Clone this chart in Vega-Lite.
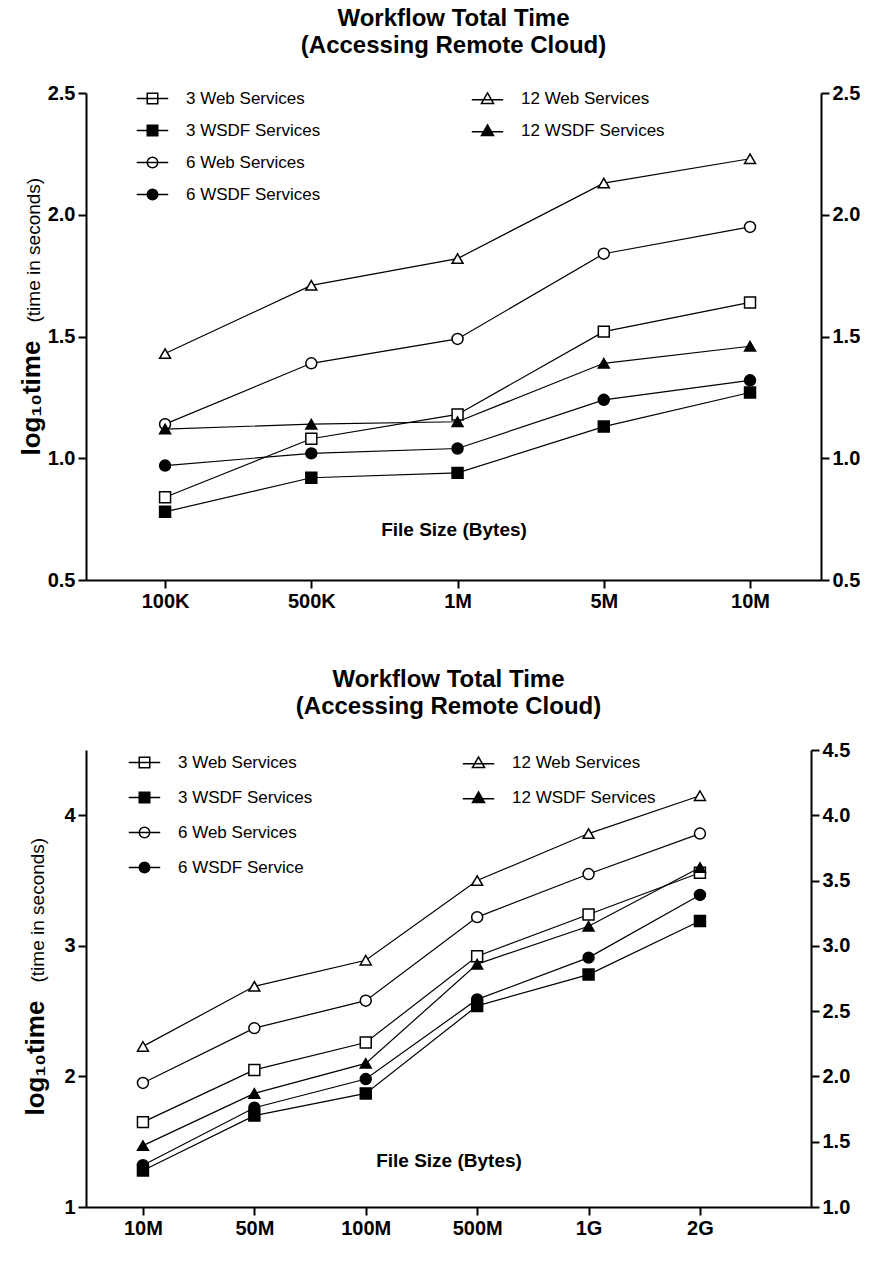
{
  "$schema": "https://vega.github.io/schema/vega-lite/v6.json",
  "padding": {"left": 18, "top": 7, "right": 0, "bottom": 0},
  "background": "white",
  "spacing": 57,
  "config": {
    "font": "Liberation Sans",
    "view": {"stroke": null},
    "axis": {"domainColor": "black", "domainWidth": 2, "tickColor": "black", "tickWidth": 2, "tickSize": 8, "labelFont": "Liberation Sans", "labelFontWeight": "bold", "labelFontSize": 20, "labelColor": "black", "grid": false, "titleColor": "black", "titleFont": "Liberation Sans"},
    "legend": {"title": null, "orient": "none", "labelFont": "Liberation Sans", "labelFontSize": 17, "labelColor": "black", "labelLimit": 400, "symbolOffset": 15, "labelOffset": 25, "symbolOpacity": 1, "symbolStrokeColor": "black", "symbolStrokeWidth": 1.5, "symbolSize": 110, "padding": 0},
    "title": {"font": "Liberation Sans", "fontSize": 24, "fontWeight": "bold", "color": "black", "lineHeight": 27, "frame": "group", "anchor": "middle"}
  },
  "vconcat": [
    {
      "width": 735, "height": 487,
      "title": {"text": ["Workflow Total Time", "(Accessing Remote Cloud)"], "offset": 25},
      "data": {"values": [
        {"size": "100K", "series": "3 Web Services", "time": 0.84},
        {"size": "100K", "series": "3 WSDF Services", "time": 0.78},
        {"size": "100K", "series": "6 Web Services", "time": 1.14},
        {"size": "100K", "series": "6 WSDF Services", "time": 0.97},
        {"size": "100K", "series": "12 Web Services", "time": 1.43},
        {"size": "100K", "series": "12 WSDF Services", "time": 1.12},
        {"size": "500K", "series": "3 Web Services", "time": 1.08},
        {"size": "500K", "series": "3 WSDF Services", "time": 0.92},
        {"size": "500K", "series": "6 Web Services", "time": 1.39},
        {"size": "500K", "series": "6 WSDF Services", "time": 1.02},
        {"size": "500K", "series": "12 Web Services", "time": 1.71},
        {"size": "500K", "series": "12 WSDF Services", "time": 1.14},
        {"size": "1M", "series": "3 Web Services", "time": 1.18},
        {"size": "1M", "series": "3 WSDF Services", "time": 0.94},
        {"size": "1M", "series": "6 Web Services", "time": 1.49},
        {"size": "1M", "series": "6 WSDF Services", "time": 1.04},
        {"size": "1M", "series": "12 Web Services", "time": 1.82},
        {"size": "1M", "series": "12 WSDF Services", "time": 1.15},
        {"size": "5M", "series": "3 Web Services", "time": 1.52},
        {"size": "5M", "series": "3 WSDF Services", "time": 1.13},
        {"size": "5M", "series": "6 Web Services", "time": 1.84},
        {"size": "5M", "series": "6 WSDF Services", "time": 1.24},
        {"size": "5M", "series": "12 Web Services", "time": 2.13},
        {"size": "5M", "series": "12 WSDF Services", "time": 1.39},
        {"size": "10M", "series": "3 Web Services", "time": 1.64},
        {"size": "10M", "series": "3 WSDF Services", "time": 1.27},
        {"size": "10M", "series": "6 Web Services", "time": 1.95},
        {"size": "10M", "series": "6 WSDF Services", "time": 1.32},
        {"size": "10M", "series": "12 Web Services", "time": 2.23},
        {"size": "10M", "series": "12 WSDF Services", "time": 1.46}
      ]},
      "encoding": {
        "x": {"field": "size", "type": "ordinal", "sort": ["100K", "500K", "1M", "5M", "10M"], "scale": {"type": "point", "padding": 0.513, "align": 0.527},
              "axis": {"title": "File Size (Bytes)", "titleFontSize": 19, "titleFontWeight": "bold", "titleY": -51, "titleBaseline": "middle", "labelAngle": 0, "labelPadding": 3}}
      },
      "resolve": {"scale": {"shape": "independent", "fill": "independent"}, "axis": {"y": "independent"}},
      "layer": [
        {
          "mark": {"type": "line", "color": "black", "strokeWidth": 1.2},
          "encoding": {
            "y": {"field": "time", "type": "quantitative", "scale": {"domain": [0.5, 2.5], "nice": false, "zero": false},
                  "axis": {"orient": "left", "values": [0.5, 1, 1.5, 2, 2.5], "format": ".1f", "labelPadding": 3, "title": "log₁₀time", "titleFontSize": 26, "titleFontWeight": "bold", "titleAngle": 270, "titleAlign": "left", "titleBaseline": "alphabetic", "titleX": -47, "titleY": 362}},
            "detail": {"field": "series"}
          }
        },
        {
          "mark": {"type": "point", "stroke": "black", "strokeWidth": 1.5, "opacity": 1},
          "encoding": {
            "y": {"field": "time", "type": "quantitative",
                  "axis": {"orient": "right", "values": [0.5, 1, 1.5, 2, 2.5], "format": ".1f", "labelPadding": 3, "title": "(time in seconds)", "titleFontSize": 19, "titleFontWeight": "normal", "titleAngle": 270, "titleAlign": "left", "titleBaseline": "alphabetic", "titleX": -782, "titleY": 229}},
            "shape": {"field": "series", "type": "nominal", "legend": null,
                      "scale": {"domain": ["3 Web Services", "3 WSDF Services", "6 Web Services", "6 WSDF Services", "12 Web Services", "12 WSDF Services"], "range": ["square", "square", "circle", "circle", "triangle-up", "triangle-up"]}},
            "fill": {"field": "series", "type": "nominal", "legend": null,
                     "scale": {"domain": ["3 Web Services", "3 WSDF Services", "6 Web Services", "6 WSDF Services", "12 Web Services", "12 WSDF Services"], "range": ["white", "black", "white", "black", "white", "black"]}},
            "size": {"value": 120}
          }
        },
        {
          "transform": [{"filter": {"field": "series", "oneOf": ["3 Web Services", "3 WSDF Services", "6 Web Services", "6 WSDF Services"]}}],
          "mark": {"type": "point", "stroke": "black", "strokeWidth": 1.5, "opacity": 0},
          "encoding": {
            "y": {"field": "time", "type": "quantitative", "axis": null},
            "shape": {"field": "series", "type": "nominal",
                      "scale": {"domain": ["3 Web Services", "3 WSDF Services", "6 Web Services", "6 WSDF Services"], "range": ["M-3,0H3M-1,-1H1V1H-1Z", "M-3,0H3M-1,-1H1V1H-1Z", "M-3,0H3M1,0A1,1,0,1,1,-1,0A1,1,0,1,1,1,0Z", "M-3,0H3M1,0A1,1,0,1,1,-1,0A1,1,0,1,1,1,0Z"]},
                      "legend": {"legendX": 43, "legendY": -3, "rowPadding": 14, "encode": {"symbols": {"update": {"stroke": {"value": "black"}, "strokeWidth": {"value": 1.5}}}}}},
            "fill": {"field": "series", "type": "nominal",
                     "scale": {"domain": ["3 Web Services", "3 WSDF Services", "6 Web Services", "6 WSDF Services"], "range": ["white", "black", "white", "black"]},
                     "legend": {"legendX": 43, "legendY": -3, "rowPadding": 14, "encode": {"symbols": {"update": {"stroke": {"value": "black"}, "strokeWidth": {"value": 1.5}}}}}},
            "size": {"value": 110}
          }
        },
        {
          "transform": [{"filter": {"field": "series", "oneOf": ["12 Web Services", "12 WSDF Services"]}}],
          "mark": {"type": "point", "stroke": "black", "strokeWidth": 1.5, "opacity": 0},
          "encoding": {
            "y": {"field": "time", "type": "quantitative", "axis": null},
            "shape": {"field": "series", "type": "nominal",
                      "scale": {"domain": ["12 Web Services", "12 WSDF Services"], "range": ["M-3,0.25H3M0,-1.05L1.15,0.95H-1.15Z", "M-3,0.25H3M0,-1.05L1.15,0.95H-1.15Z"]},
                      "legend": {"legendX": 378, "legendY": -3, "rowPadding": 14, "encode": {"symbols": {"update": {"stroke": {"value": "black"}, "strokeWidth": {"value": 1.5}}}}}},
            "fill": {"field": "series", "type": "nominal",
                     "scale": {"domain": ["12 Web Services", "12 WSDF Services"], "range": ["white", "black"]},
                     "legend": {"legendX": 378, "legendY": -3, "rowPadding": 14, "encode": {"symbols": {"update": {"stroke": {"value": "black"}, "strokeWidth": {"value": 1.5}}}}}},
            "size": {"value": 110}
          }
        }
      ]
    },
    {
      "width": 725, "height": 457,
      "title": {"text": ["Workflow Total Time", "(Accessing Remote Cloud)"], "offset": 21},
      "data": {"values": [
        {"size": "10M", "series": "3 Web Services", "time": 1.65},
        {"size": "10M", "series": "3 WSDF Services", "time": 1.28},
        {"size": "10M", "series": "6 Web Services", "time": 1.95},
        {"size": "10M", "series": "6 WSDF Service", "time": 1.32},
        {"size": "10M", "series": "12 Web Services", "time": 2.23},
        {"size": "10M", "series": "12 WSDF Services", "time": 1.47},
        {"size": "50M", "series": "3 Web Services", "time": 2.05},
        {"size": "50M", "series": "3 WSDF Services", "time": 1.70},
        {"size": "50M", "series": "6 Web Services", "time": 2.37},
        {"size": "50M", "series": "6 WSDF Service", "time": 1.76},
        {"size": "50M", "series": "12 Web Services", "time": 2.69},
        {"size": "50M", "series": "12 WSDF Services", "time": 1.87},
        {"size": "100M", "series": "3 Web Services", "time": 2.26},
        {"size": "100M", "series": "3 WSDF Services", "time": 1.87},
        {"size": "100M", "series": "6 Web Services", "time": 2.58},
        {"size": "100M", "series": "6 WSDF Service", "time": 1.98},
        {"size": "100M", "series": "12 Web Services", "time": 2.89},
        {"size": "100M", "series": "12 WSDF Services", "time": 2.10},
        {"size": "500M", "series": "3 Web Services", "time": 2.92},
        {"size": "500M", "series": "3 WSDF Services", "time": 2.54},
        {"size": "500M", "series": "6 Web Services", "time": 3.22},
        {"size": "500M", "series": "6 WSDF Service", "time": 2.59},
        {"size": "500M", "series": "12 Web Services", "time": 3.50},
        {"size": "500M", "series": "12 WSDF Services", "time": 2.86},
        {"size": "1G", "series": "3 Web Services", "time": 3.24},
        {"size": "1G", "series": "3 WSDF Services", "time": 2.78},
        {"size": "1G", "series": "6 Web Services", "time": 3.55},
        {"size": "1G", "series": "6 WSDF Service", "time": 2.91},
        {"size": "1G", "series": "12 Web Services", "time": 3.86},
        {"size": "1G", "series": "12 WSDF Services", "time": 3.15},
        {"size": "2G", "series": "3 Web Services", "time": 3.56},
        {"size": "2G", "series": "3 WSDF Services", "time": 3.19},
        {"size": "2G", "series": "6 Web Services", "time": 3.86},
        {"size": "2G", "series": "6 WSDF Service", "time": 3.39},
        {"size": "2G", "series": "12 Web Services", "time": 4.15},
        {"size": "2G", "series": "12 WSDF Services", "time": 3.60}
      ]},
      "encoding": {
        "x": {"field": "size", "type": "ordinal", "sort": ["10M", "50M", "100M", "500M", "1G", "2G"], "scale": {"type": "point", "padding": 0.754, "align": 0.339},
              "axis": {"title": "File Size (Bytes)", "titleFontSize": 19, "titleFontWeight": "bold", "titleY": -47, "titleBaseline": "middle", "labelAngle": 0, "labelPadding": 3}}
      },
      "resolve": {"scale": {"shape": "independent", "fill": "independent"}, "axis": {"y": "independent"}},
      "layer": [
        {
          "mark": {"type": "line", "color": "black", "strokeWidth": 1.2},
          "encoding": {
            "y": {"field": "time", "type": "quantitative", "scale": {"domain": [1, 4.5], "nice": false, "zero": false},
                  "axis": {"orient": "left", "values": [1, 2, 3, 4], "format": "d", "labelPadding": 3, "title": "log₁₀time", "titleFontSize": 26, "titleFontWeight": "bold", "titleAngle": 270, "titleAlign": "left", "titleBaseline": "alphabetic", "titleX": -43, "titleY": 365}},
            "detail": {"field": "series"}
          }
        },
        {
          "mark": {"type": "point", "stroke": "black", "strokeWidth": 1.5, "opacity": 1},
          "encoding": {
            "y": {"field": "time", "type": "quantitative",
                  "axis": {"orient": "right", "values": [1, 1.5, 2, 2.5, 3, 3.5, 4, 4.5], "format": ".1f", "labelPadding": 3, "title": "(time in seconds)", "titleFontSize": 19, "titleFontWeight": "normal", "titleAngle": 270, "titleAlign": "left", "titleBaseline": "alphabetic", "titleX": -768, "titleY": 232}},
            "shape": {"field": "series", "type": "nominal", "legend": null,
                      "scale": {"domain": ["3 Web Services", "3 WSDF Services", "6 Web Services", "6 WSDF Service", "12 Web Services", "12 WSDF Services"], "range": ["square", "square", "circle", "circle", "triangle-up", "triangle-up"]}},
            "fill": {"field": "series", "type": "nominal", "legend": null,
                     "scale": {"domain": ["3 Web Services", "3 WSDF Services", "6 Web Services", "6 WSDF Service", "12 Web Services", "12 WSDF Services"], "range": ["white", "black", "white", "black", "white", "black"]}},
            "size": {"value": 120}
          }
        },
        {
          "transform": [{"filter": {"field": "series", "oneOf": ["3 Web Services", "3 WSDF Services", "6 Web Services", "6 WSDF Service"]}}],
          "mark": {"type": "point", "stroke": "black", "strokeWidth": 1.5, "opacity": 0},
          "encoding": {
            "y": {"field": "time", "type": "quantitative", "axis": null},
            "shape": {"field": "series", "type": "nominal",
                      "scale": {"domain": ["3 Web Services", "3 WSDF Services", "6 Web Services", "6 WSDF Service"], "range": ["M-3,0H3M-1,-1H1V1H-1Z", "M-3,0H3M-1,-1H1V1H-1Z", "M-3,0H3M1,0A1,1,0,1,1,-1,0A1,1,0,1,1,1,0Z", "M-3,0H3M1,0A1,1,0,1,1,-1,0A1,1,0,1,1,1,0Z"]},
                      "legend": {"legendX": 35, "legendY": 4, "rowPadding": 17, "encode": {"symbols": {"update": {"stroke": {"value": "black"}, "strokeWidth": {"value": 1.5}}}}}},
            "fill": {"field": "series", "type": "nominal",
                     "scale": {"domain": ["3 Web Services", "3 WSDF Services", "6 Web Services", "6 WSDF Service"], "range": ["white", "black", "white", "black"]},
                     "legend": {"legendX": 35, "legendY": 4, "rowPadding": 17, "encode": {"symbols": {"update": {"stroke": {"value": "black"}, "strokeWidth": {"value": 1.5}}}}}},
            "size": {"value": 110}
          }
        },
        {
          "transform": [{"filter": {"field": "series", "oneOf": ["12 Web Services", "12 WSDF Services"]}}],
          "mark": {"type": "point", "stroke": "black", "strokeWidth": 1.5, "opacity": 0},
          "encoding": {
            "y": {"field": "time", "type": "quantitative", "axis": null},
            "shape": {"field": "series", "type": "nominal",
                      "scale": {"domain": ["12 Web Services", "12 WSDF Services"], "range": ["M-3,0.25H3M0,-1.05L1.15,0.95H-1.15Z", "M-3,0.25H3M0,-1.05L1.15,0.95H-1.15Z"]},
                      "legend": {"legendX": 369, "legendY": 4, "rowPadding": 17, "encode": {"symbols": {"update": {"stroke": {"value": "black"}, "strokeWidth": {"value": 1.5}}}}}},
            "fill": {"field": "series", "type": "nominal",
                     "scale": {"domain": ["12 Web Services", "12 WSDF Services"], "range": ["white", "black"]},
                     "legend": {"legendX": 369, "legendY": 4, "rowPadding": 17, "encode": {"symbols": {"update": {"stroke": {"value": "black"}, "strokeWidth": {"value": 1.5}}}}}},
            "size": {"value": 110}
          }
        }
      ]
    }
  ]
}
